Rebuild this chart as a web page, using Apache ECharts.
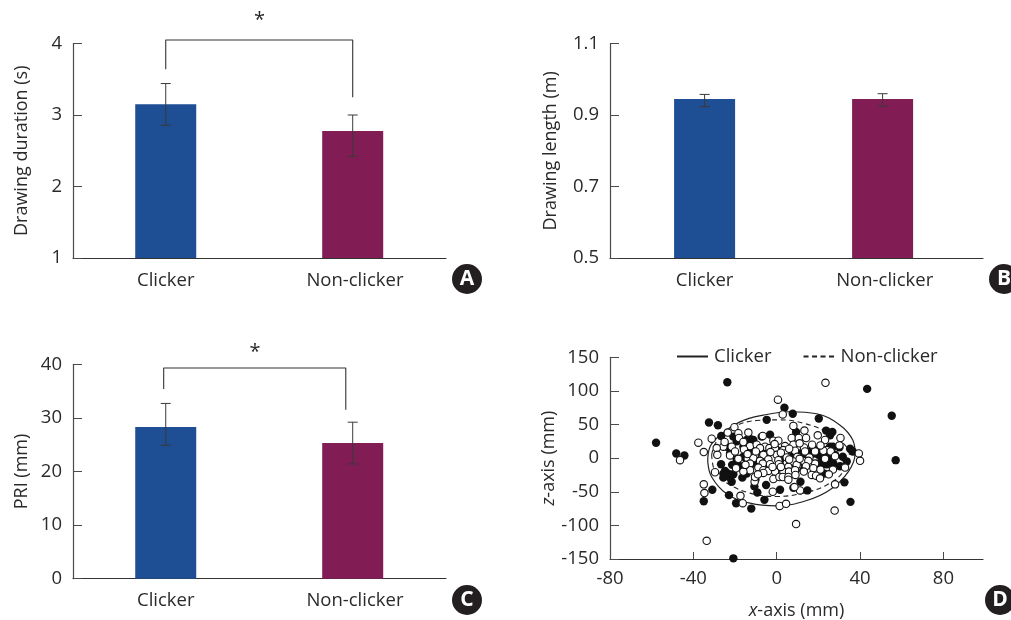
<!DOCTYPE html>
<html><head><meta charset="utf-8">
<style>html,body{margin:0;padding:0;background:#fff}#c{width:1011px;height:620px}</style>
<script src="https://cdn.jsdelivr.net/npm/echarts@6/dist/echarts.min.js"></script>
</head><body><div id="c"></div>
<script>
const categories = ['Clicker', 'Non-clicker'];
const barSlots = [1, 2];
const labelSlots = [1, 2.012];
const durationValues = [3.15, 2.776];
const durationErrors = [[2.856, 3.44], [2.42, 3.0]];
const durationBracket = [[1, 3.64], [1, 4.05], [2, 4.05], [2, 3.25]];
const lengthValues = [0.945, 0.945];
const lengthErrors = [[0.924, 0.958], [0.925, 0.96]];
const priValues = [28.3, 25.3];
const priErrors = [[24.9, 32.7], [21.4, 29.2]];
const priBracket = [[0.989, 35.4], [0.989, 39.3], [1.963, 39.3], [1.963, 31.5]];
const lengthTicks = [0.5, 0.7, 0.9, 1.1];
const xTicksD = [-80, -40, 0, 40, 80];

const clickerPoints = [[-57.9,23],[-48.2,7],[-44.3,4],[-23.7,113],[43.4,103],[55.2,63],[57.1,-3],[-20.8,-149],[35.4,-65],[32.5,-36],[-35,-64],[-30.9,-47],[-32.5,53],[-28.2,49],[-26.6,33],[-4.8,57],[3.7,75],[7.7,66],[20.2,59],[-12.2,-75],[-19.5,-67],[-22.9,-55],[-5.9,-62],[1.6,-47],[14.7,-48],[11.4,-35],[-5.1,-40],[-9.3,-51],[-10.7,-42],[-10.2,-32],[-21.6,-35],[-25.6,-29],[-24.8,-19],[-26.7,-9],[-20.8,-24],[-16.5,-29],[-16.3,-15],[-21.4,-10],[-19.2,-2],[-12.5,28],[-11.2,27],[-3.2,35],[-7.2,32],[-20.8,32],[-19.2,25],[-24,17],[9.3,39],[23.7,41],[26.7,39],[25.6,34],[30.1,16],[35.2,14],[36.5,10],[31.7,2],[33.6,-5],[30.4,-12],[22.9,-23],[12.8,-18],[8,-44],[1.6,-10],[6.4,-8],[0,12],[-4.8,7],[-9.6,12],[-12.8,10],[19.2,12],[17.6,7],[22.4,-3],[20,-8],[24,-9],[25.6,17],[12.8,-3],[-4.8,-10],[-11.2,-8],[-16,2],[-22.4,7],[-23.2,-23],[-12,17],[4.8,15],[11.2,7],[15.2,10],[-14.4,27],[-16,17],[-8,10],[14.4,5],[20,5],[21.6,1],[24,2],[25.6,-3],[27.2,-8],[21.6,-10],[8,7],[-24,-25],[-22.4,-29],[-25.6,-23],[-18.4,-10],[-8,-10],[0,-14],[1.6,-3],[4.8,-15],[27,17],[28,5],[8.8,-20],[13.6,-10],[-14.4,-23]];
const nonClickerPoints = [[0.6,87],[23.4,112],[9.3,-98],[27.8,-78],[-33.6,-123],[-46.4,-3],[-35,-39],[-34.7,-52],[-37.6,23],[-35,9],[-31.2,29],[-29.6,-21],[2.9,65],[8,48],[13.3,41],[19.7,34],[30.6,30],[30.1,19],[39.4,7],[40,-4],[32.8,-14],[28,-39],[11.2,-48],[8.5,-43],[-1.9,-50],[1.4,-71],[4.5,-68],[-16.3,-67],[-17.4,-56],[-10.6,-35],[-20.3,46],[-23.5,38],[-13.6,38],[-18.4,37],[-18.1,30],[-6.7,33],[-1.6,26],[0.8,26],[7.2,30],[10.6,30],[14.1,30],[23.2,27],[-25.6,17],[-21.6,17],[-12.8,18],[-9.6,20],[-5.6,17],[4,18],[8,20],[13.1,16],[24,12],[-28.8,15],[-15.7,13],[-8,15],[-3.5,15],[-0.8,15],[3.2,12],[8.8,11],[13.6,10],[18.4,10],[22.4,11],[25.9,10],[-28.5,5],[-22.4,4],[-10.4,5],[-6.4,5],[0,5],[4,7],[9.9,2],[15.7,1],[28,3],[-18.4,-1],[-13.9,-1],[-11.2,0],[-8,-4],[-4,-2],[0.8,-3],[4.8,1],[8,-5],[12.8,-4],[18.4,-8],[23.2,-1],[15.2,-4],[-12.8,-8],[-6.7,-8],[-3.2,-9],[5.6,-13],[9.6,-10],[17.6,-15],[-19.5,-15],[-8.8,-14],[-12.8,-18],[-6.4,-18],[-16,-20],[-4,-19],[-0.8,-20],[3.2,-20],[5.9,-20],[8.8,-18],[16.8,-25],[18.9,-26],[20.8,-30],[-1.6,-31],[1.3,-28],[2.9,-28],[5.6,-28],[5.6,-32],[-10.4,-28],[-6.4,-22],[-25,24],[-16,24],[-10,10],[-1,21],[2,8],[6,14],[11,22],[17,20],[21,19],[-20,10],[-14,6],[-3,9],[1,-9],[6,-2],[11,-1],[14,-12],[21,-17],[-2,-13],[-15,-10],[-9,-24],[2,-13],[9,-25],[13,-20],[27,-17],[25,-24]];
const clickerOutline = [[-33.1,-5],[-32,17],[-27.2,34],[-17.6,54],[-6.4,64],[6.4,69],[19.2,66],[30.4,49],[36.5,27],[37.6,7],[34.4,-20],[25.6,-47],[14.4,-63],[0,-71],[-12.8,-67],[-24,-53],[-31.2,-28],[-33.1,-5]];
const nonClickerOutline = [[-31.2,5],[-28.8,25],[-20.8,46],[-9.6,56],[1.6,57],[12.8,52],[24,39],[32,22],[34.9,5],[32,-20],[24,-40],[12.8,-52],[0,-57],[-12.8,-52],[-24,-37],[-29.6,-20],[-31.2,5]];

const TEXT = '#2a2a2a', AXIS = '#4a4a4a', FONT = '"Open Sans"', FS = 18.5, NAME_FS = 18;
const barColors = ['#1E4E93', '#821C54'];
const chart = echarts.init(document.getElementById('c'), null, {renderer: 'canvas'});

const grid = [], xAxis = [], yAxis = [], series = [];
function yAxisOf(i, o) {
  return Object.assign({
    type: 'value', gridIndex: i, splitLine: {show: false},
    nameLocation: 'middle', nameRotate: 90,
    nameTextStyle: {color: TEXT, fontFamily: FONT, fontSize: NAME_FS},
    axisLine: {show: true, lineStyle: {color: AXIS, width: 1.2}},
    axisTick: {show: true, inside: true, length: 9, lineStyle: {color: AXIS, width: 1}},
    axisLabel: {color: TEXT, fontFamily: FONT, fontSize: FS, margin: 11}
  }, o);
}
function barPanel(i, g, xMin, xMax, yOpt, values, errors, bracket) {
  grid.push(Object.assign({outerBoundsMode: 'none'}, g));
  xAxis.push({
    type: 'value', gridIndex: i, min: xMin, max: xMax, splitLine: {show: false},
    axisLine: {show: true, onZero: false, lineStyle: {color: '#333', width: 1.2}},
    axisTick: {show: false},
    axisLabel: {color: TEXT, fontFamily: FONT, fontSize: FS, margin: 13, showMinLabel: true, showMaxLabel: true,
      customValues: labelSlots, formatter: v => categories[labelSlots.indexOf(v)]}
  });
  yAxis.push(yAxisOf(i, yOpt));
  series.push({type: 'bar', xAxisIndex: i, yAxisIndex: i, barWidth: 61, silent: true,
    data: values.map((v, k) => ({value: [barSlots[k], v], itemStyle: {color: barColors[k]}}))});
  series.push({type: 'custom', xAxisIndex: i, yAxisIndex: i, silent: true, clip: false, z: 5,
    data: errors.map((e, k) => [barSlots[k], e[0], e[1]]),
    encode: {x: 0, y: [1, 2]},
    renderItem: (p, api) => {
      const lo = api.coord([api.value(0), api.value(1)]);
      const hi = api.coord([api.value(0), api.value(2)]);
      const st = {stroke: '#3a3a3a', lineWidth: 1};
      const hw = 5;
      return {type: 'group', children: [
        {type: 'line', shape: {x1: lo[0], y1: lo[1], x2: hi[0], y2: hi[1]}, style: st},
        {type: 'line', shape: {x1: lo[0] - hw, y1: lo[1], x2: lo[0] + hw, y2: lo[1]}, style: st},
        {type: 'line', shape: {x1: hi[0] - hw, y1: hi[1], x2: hi[0] + hw, y2: hi[1]}, style: st}
      ]};
    }});
  if (bracket) series.push({type: 'line', xAxisIndex: i, yAxisIndex: i, data: bracket, symbol: 'none', silent: true,
    clip: false, lineStyle: {color: '#333', width: 1.1}});
}

barPanel(0, {left: 73, top: 43.5, width: 373, height: 214.5}, 0.504, 2.499,
  {min: 1, max: 4, interval: 1, name: 'Drawing duration (s)', nameGap: 42},
  durationValues, durationErrors, durationBracket);
barPanel(1, {left: 610, top: 43.7, width: 373, height: 214.3}, 0.4686, 2.564,
  {min: 0.5, max: 1.1, name: 'Drawing length (m)', nameGap: 50,
   axisTick: {show: true, inside: true, length: 9, customValues: lengthTicks, lineStyle: {color: AXIS, width: 1}},
   axisLabel: {color: TEXT, fontFamily: FONT, fontSize: FS, margin: 11, customValues: lengthTicks, formatter: v => v.toFixed(1)}},
  lengthValues, lengthErrors, null);
barPanel(2, {left: 73, top: 364.3, width: 373, height: 214.4}, 0.504, 2.499,
  {min: 0, max: 40, interval: 10, name: 'PRI (mm)', nameGap: 42},
  priValues, priErrors, priBracket);

// Panel D
grid.push({left: 610, top: 357.3, width: 373, height: 201.7, outerBoundsMode: 'none'});
xAxis.push({
  type: 'value', gridIndex: 3, min: -80, max: 99, splitLine: {show: false},
  axisLine: {show: true, onZero: false, lineStyle: {color: '#333', width: 1.2}},
  axisTick: {show: true, inside: true, length: 7, customValues: xTicksD, lineStyle: {color: AXIS, width: 1}},
  axisLabel: {color: TEXT, fontFamily: FONT, fontSize: FS, margin: 10, customValues: xTicksD},
  name: '{i|x}-axis (mm)', nameLocation: 'middle', nameGap: 43,
  nameTextStyle: {color: TEXT, fontFamily: FONT, fontSize: NAME_FS,
    rich: {i: {fontStyle: 'italic', color: TEXT, fontFamily: FONT, fontSize: NAME_FS}}}
});
yAxis.push(yAxisOf(3, {min: -150, max: 150, interval: 50, name: '{i|z}-axis (mm)', nameGap: 41,
  axisLine: {show: true, onZero: false, lineStyle: {color: AXIS, width: 1.2}},
  nameTextStyle: {color: TEXT, fontFamily: FONT, fontSize: NAME_FS,
    rich: {i: {fontStyle: 'italic', color: TEXT, fontFamily: FONT, fontSize: NAME_FS}}}}));
series.push({name: categories[0], type: 'line', xAxisIndex: 3, yAxisIndex: 3, data: clickerOutline, smooth: 0.4,
  symbol: 'none', silent: true, z: 2, itemStyle: {color: '#222'}, lineStyle: {color: '#222', width: 1.2}});
series.push({name: categories[1], type: 'line', xAxisIndex: 3, yAxisIndex: 3, data: nonClickerOutline, smooth: 0.4,
  symbol: 'none', silent: true, z: 2, itemStyle: {color: '#222'}, lineStyle: {color: '#222', width: 1.1, type: [5, 3.5]}});
series.push({type: 'scatter', xAxisIndex: 3, yAxisIndex: 3, data: clickerPoints, symbol: 'circle', symbolSize: 8.4,
  silent: true, z: 3, itemStyle: {color: '#111', opacity: 1}});
series.push({type: 'scatter', xAxisIndex: 3, yAxisIndex: 3, data: nonClickerPoints, symbol: 'circle', symbolSize: 7.4,
  silent: true, z: 4, itemStyle: {color: '#fff', borderColor: '#111', borderWidth: 1.1, opacity: 1}});

function badge(cx, cy, t) {
  return [
    {type: 'circle', silent: true, shape: {cx, cy, r: 15}, style: {fill: '#231f20'}, z: 20},
    {type: 'text', silent: true, x: cx, y: cy, z: 21, style: {text: t, fill: '#fff', font: 'bold 21px "Open Sans"', align: 'center', verticalAlign: 'middle'}}
  ];
}
function star(x, y) {
  return {type: 'text', silent: true, x, y, z: 21, style: {text: '*', fill: TEXT, font: '20px "Open Sans"', align: 'center', verticalAlign: 'middle'}};
}

chart.setOption({
  animation: false, backgroundColor: '#fff',
  grid, xAxis, yAxis, series,
  legend: {data: categories, left: 671, top: 342, itemWidth: 31, itemHeight: 14, itemGap: 31, selectedMode: false,
    itemStyle: {opacity: 0},
    textStyle: {color: TEXT, fontFamily: FONT, fontSize: FS, padding: [0, 0, 0, 1]}},
  graphic: [].concat(badge(467, 279, 'A'), badge(1004, 279, 'B'), badge(467, 600, 'C'), badge(1000, 600, 'D'),
    [star(259.5, 20), star(255, 352)])
});
</script></body></html>
